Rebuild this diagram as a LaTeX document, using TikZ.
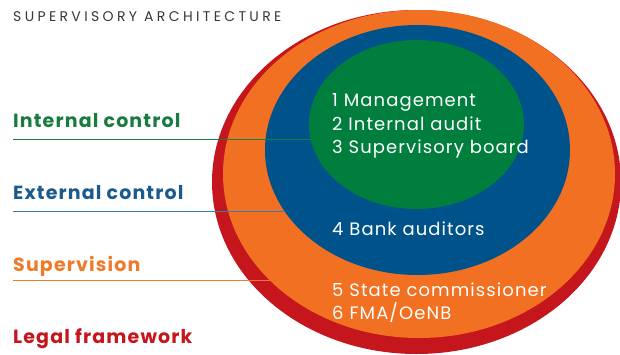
\documentclass[tikz,border=0pt]{standalone}
\usepackage{fontspec}
\setmainfont{Poppins}
\newfontfamily\labfont[LetterSpace=6]{Poppins}
\newfontfamily\intfont[LetterSpace=6]{Poppins}
\newfontfamily\titfont[LetterSpace=24]{Poppins}
\definecolor{redc}{RGB}{196,22,28}
\definecolor{orangec}{RGB}{241,112,34}
\definecolor{bluec}{RGB}{0,83,138}
\definecolor{greenc}{RGB}{0,126,62}
\definecolor{greenl}{RGB}{26,123,62}
\definecolor{bluel}{RGB}{27,90,142}
\definecolor{bluelin}{RGB}{61,123,175}
\definecolor{orangel}{RGB}{240,122,42}
\definecolor{titgray}{RGB}{55,55,55}
\tikzset{
  lab/.style={anchor=base west, inner sep=0pt, font=\labfont\bfseries\fontsize{19}{22}\selectfont},
  inner/.style={anchor=base west, inner sep=0pt, text=white, font=\intfont\fontsize{18}{22}\selectfont},
  conn/.style={line width=1pt}
}
\begin{document}
\begin{tikzpicture}[x=1pt,y=-1pt]
\useasboundingbox (0,0) rectangle (620,354);
\fill[redc] (416.5,182) ellipse [x radius=204.5pt, y radius=172pt];
\fill[orangec] (419,174) ellipse [x radius=196pt, y radius=164pt];
\fill[bluec] (417.5,150) ellipse [x radius=152.5pt, y radius=125pt];
\fill[greenc] (416.5,124.5) ellipse [x radius=107.5pt, y radius=84.5pt];

\node[anchor=base west, inner sep=0pt, text=titgray, font=\titfont\fontsize{14}{16}\selectfont] (title) at (13,21) {SUPERVISORY ARCHITECTURE};

\node[lab, text=greenl] (ic) at (13,127) {Internal control};
\node[lab, text=bluel] (ec) at (13,199) {External control};
\node[lab, text=orangel] (sv) at (13,271) {Supervision};
\node[lab, text=redc] (lf) at (13,343) {Legal framework};

\coordinate (ics) at (13,139);
\coordinate (ice) at (310.6,139);
\coordinate (ecs) at (13,211);
\coordinate (ece) at (284.4,211);
\coordinate (svs) at (13,280);
\coordinate (sve) at (269.5,280);
\draw[conn, greenl] (ics) -- (ice);
\draw[conn, bluelin] (ecs) -- (ece);
\draw[conn, orangel] (svs) -- (sve);

\node[inner] (t1) at (332,106) {1 Management};
\node[inner] (t2) at (332,130) {2 Internal audit};
\node[inner] (t3) at (332,153) {3 Supervisory board};
\node[inner] (t4) at (332,235) {4 Bank auditors};
\node[inner] (t5) at (332,296) {5 State commissioner};
\node[inner] (t6) at (332,319) {6 FMA/OeNB};
\end{tikzpicture}
\end{document}
